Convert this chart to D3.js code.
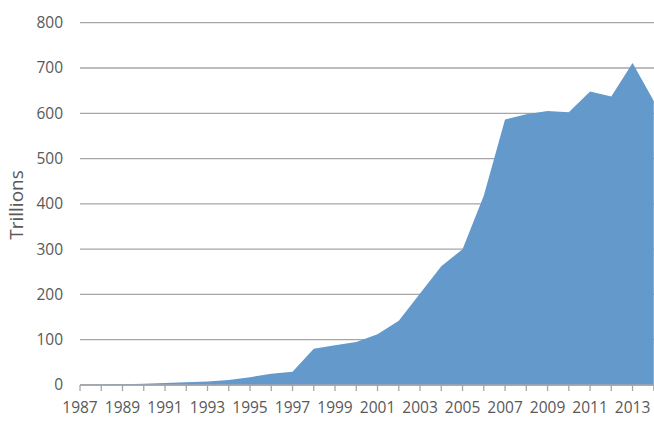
<!DOCTYPE html>
<html>
<head>
<meta charset="utf-8">
<script src="https://cdn.jsdelivr.net/npm/d3@7"></script>
<style>
  html, body { margin: 0; padding: 0; background: #fff; }
  svg { display: block; }
  text { font-family: "Open Sans", sans-serif; fill: #595959; }
</style>
</head>
<body>
<svg id="draw"></svg>
<script>
// values, in trillions
var years = [1987, 1988, 1989, 1990, 1991, 1992, 1993, 1994, 1995, 1996,
  1997, 1998, 1999, 2000, 2001, 2002, 2003, 2004, 2005, 2006,
  2007, 2008, 2009, 2010, 2011, 2012, 2013, 2014];
var values = [0.5, 1, 1.5, 3, 4.5, 6, 8, 11, 17, 25,
  29, 80, 88, 95, 112, 142, 202, 262, 300, 418,
  586, 598, 605, 602, 648, 637, 711, 627];
var yTicks = [0, 100, 200, 300, 400, 500, 600, 700, 800];
var xLabels = [1987, 1989, 1991, 1993, 1995, 1997, 1999, 2001, 2003, 2005, 2007, 2009, 2011, 2013];

var width = 654;
var height = 428;

var svg = d3.select("#draw")
  .attr("width", width)
  .attr("height", height);

var x = d3.scaleLinear().domain([1987, 2014]).range([80, 653.8]);
var y = d3.scaleLinear().domain([0, 800]).range([385, 22.7]);

var data = years.map(function(d, i) { return { year: d, value: values[i] }; });

// grid lines
svg.append("g")
  .selectAll("line")
  .data(yTicks)
  .enter().append("line")
  .attr("x1", 80)
  .attr("x2", width)
  .attr("y1", d => y(d))
  .attr("y2", d => y(d))
  .attr("stroke", "#a6a6a6")
  .attr("stroke-width", 1.3);

// y labels
svg.append("g")
  .selectAll("text")
  .data(yTicks)
  .enter().append("text")
  .attr("x", 63)
  .attr("y", d => y(d))
  .attr("dy", "0.35em")
  .attr("text-anchor", "end")
  .style("font-size", "15.5px")
  .text(d => d);

// the area
var area = d3.area()
  .x(d => x(d.year))
  .y0(y(0))
  .y1(d => y(d.value));

svg.append("path")
  .datum(data)
  .attr("d", area)
  .attr("fill", "#6399cb");

// x axis line and ticks
svg.append("line")
  .attr("x1", 80).attr("x2", width)
  .attr("y1", y(0)).attr("y2", y(0))
  .attr("stroke", "#a6a6a6")
  .attr("stroke-width", 1.3);

svg.append("g")
  .selectAll("line")
  .data(years)
  .enter().append("line")
  .attr("x1", d => x(d))
  .attr("x2", d => x(d))
  .attr("y1", y(0))
  .attr("y2", y(0) + 6)
  .attr("stroke", "#a6a6a6")
  .attr("stroke-width", 1.3);

svg.append("g")
  .selectAll("text")
  .data(xLabels)
  .enter().append("text")
  .attr("x", d => x(d))
  .attr("y", 413)
  .attr("text-anchor", "middle")
  .style("font-size", "15.5px")
  .text(d => d);

// axis title
svg.append("text")
  .attr("transform", "translate(23,205) rotate(-90)")
  .attr("text-anchor", "middle")
  .style("font-size", "19px")
  .text("Trillions");
</script>
</body>
</html>
